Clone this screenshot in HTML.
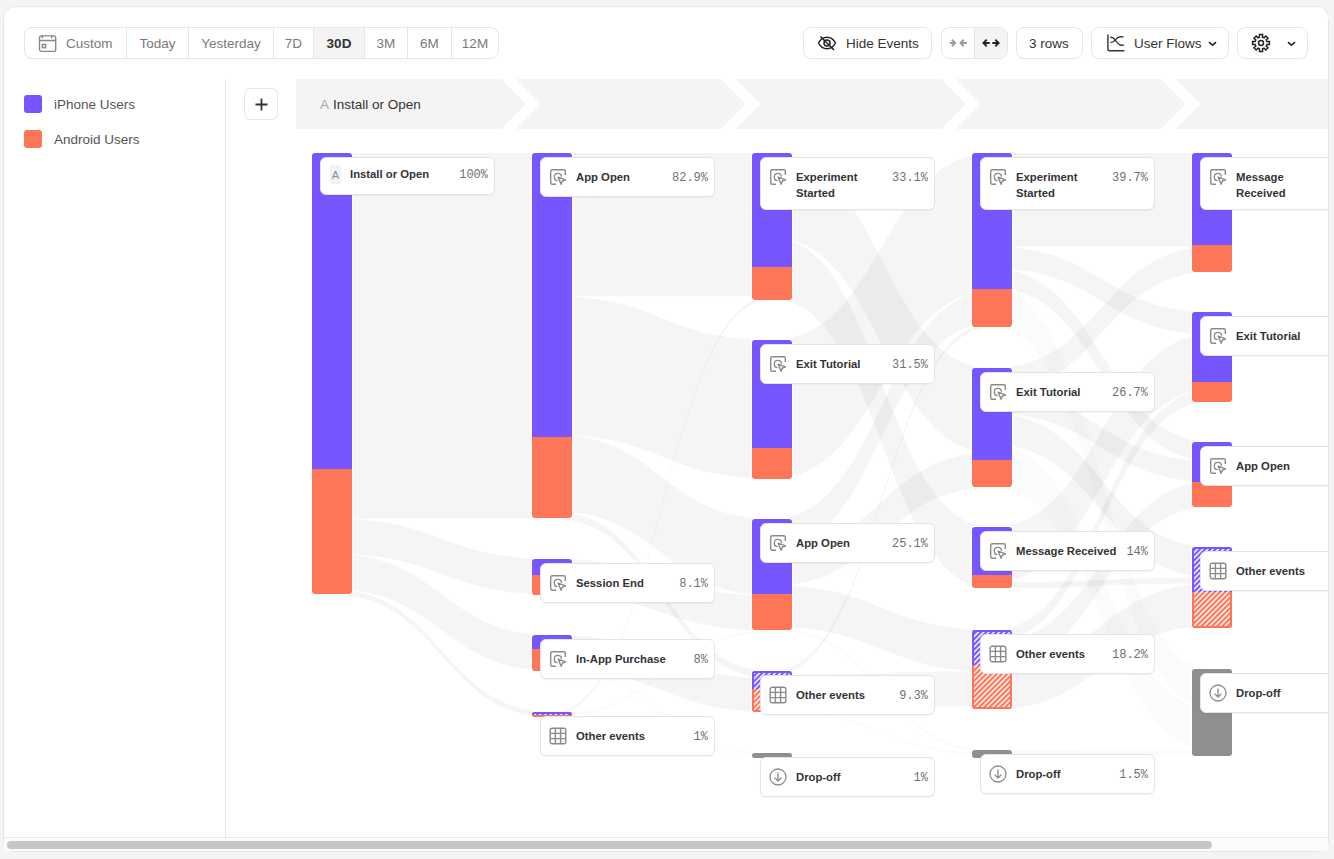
<!DOCTYPE html>
<html><head><meta charset="utf-8">
<style>
*{box-sizing:border-box;margin:0;padding:0}
html,body{width:1334px;height:859px;overflow:hidden;background:#f4f4f4;font-family:"Liberation Sans",sans-serif;color:#333;-webkit-font-smoothing:antialiased}
.frame{position:absolute;left:3px;top:6px;width:1326px;height:846px;background:#fff;border:1px solid #e6e6e6;border-radius:12px;overflow:hidden}
.abs{position:absolute}
.grp{position:absolute;top:27px;height:32px;border:1px solid #e5e5e5;border-radius:8px;display:flex;overflow:hidden;background:#fff}
.seg{height:30px;display:flex;align-items:center;justify-content:center;font-size:13.5px;color:#7a7a7a;border-left:1px solid #e5e5e5}
.seg:first-child{border-left:none}
.seg.on{background:#f4f4f4;color:#333;font-weight:bold}
.btn{position:absolute;top:27px;height:32px;border:1px solid #e5e5e5;border-radius:8px;background:#fff;font-size:13.5px;color:#333}
.btn span{position:absolute;top:8px;white-space:nowrap}
.btn svg{position:absolute}
.leg{position:absolute;left:24px;width:18px;height:18px;border-radius:3px}
.legt{position:absolute;left:54px;font-size:13.5px;color:#555;white-space:nowrap;margin-top:1px}
.card{position:absolute;width:175px;background:#fff;border:1px solid #e4e4e4;border-radius:6px;box-shadow:0 1px 1px rgba(0,0,0,0.04)}
.card .ic{position:absolute;left:8px;top:10px;width:18px;height:18px}
.card .ic svg{display:block}
.card .lb{position:absolute;left:35px;top:11px;font-size:11.3px;font-weight:bold;color:#333;line-height:16px;white-space:nowrap}
.card .pc{position:absolute;right:6px;top:12px;font-family:"Liberation Mono",monospace;font-size:12px;color:#707070;line-height:16px}
.aic{display:block;width:11px;height:19px;margin-left:1px;margin-top:-1px;background:#f2f2f2;border-radius:2px;color:#8a8a8a;font-size:11px;text-align:center;line-height:21px}
</style></head><body>
<div class="frame"></div>
<!-- date range group -->
<div class="grp" style="left:24px;width:475px">
  <div class="seg" style="width:101px;position:relative"><svg style="position:absolute;left:13px;top:6px" width="19" height="19" viewBox="0 0 19 19" fill="none" stroke="#888" stroke-width="1.4"><rect x="1.5" y="1.9" width="16.2" height="15.5" rx="2"/><path d="M1.5 6.5h16.2M4.4 0.9v3.4M13.7 0.9v3.4"/><rect x="4.4" y="10.5" width="3.2" height="3.2"/></svg><span style="position:absolute;left:41px;top:8px">Custom</span></div>
  <div class="seg" style="width:62px">Today</div>
  <div class="seg" style="width:85px">Yesterday</div>
  <div class="seg" style="width:40px">7D</div>
  <div class="seg on" style="width:51px">30D</div>
  <div class="seg" style="width:43px">3M</div>
  <div class="seg" style="width:44px">6M</div>
  <div class="seg" style="width:47px">12M</div>
</div>
<!-- right toolbar -->
<div class="btn" style="left:803px;width:129px">
  <svg style="left:13px;top:6px" width="20" height="18" viewBox="0 0 20 18" fill="none" stroke="#222" stroke-width="1.5"><path d="M1.5 9C3.5 5.2 6.5 3.2 10 3.2S16.5 5.2 18.5 9C16.5 12.8 13.5 14.8 10 14.8S3.5 12.8 1.5 9Z"/><circle cx="10" cy="9" r="3"/><path d="M3.5 2.5L17 16"/></svg>
  <span style="left:42px">Hide Events</span>
</div>
<div class="btn" style="left:941px;width:67px;overflow:hidden">
  <div class="abs" style="left:32px;top:0;width:1px;height:30px;background:#e5e5e5"></div>
  <div class="abs" style="left:33px;top:0;width:33px;height:30px;background:#f4f4f4"></div>
  <svg style="left:7px;top:10px" width="19" height="11" viewBox="0 0 19 11" fill="none" stroke="#999" stroke-width="1.8" stroke-linejoin="miter"><path d="M0.9 5h5.3M2.9 1.7L6.2 5 2.9 8.3M17.9 5h-6.4M14.8 1.7L11.5 5 14.8 8.3"/></svg>
  <svg style="left:40px;top:10px" width="19" height="11" viewBox="0 0 19 11" fill="none" stroke="#222" stroke-width="1.9" stroke-linejoin="miter"><path d="M1.4 5h6.3M4.7 1.7L1.4 5 4.7 8.3M10.3 5h6.3M13.3 1.7L16.6 5 13.3 8.3"/></svg>
</div>
<div class="btn" style="left:1016px;width:67px"><span style="left:12px">3 rows</span></div>
<div class="btn" style="left:1091px;width:138px">
  <svg style="left:14px;top:6px" width="19" height="19" viewBox="0 0 19 19" fill="none" stroke="#333" stroke-width="1.4"><path d="M1.9 0.6v14.6a1.5 1.5 0 0 0 1.5 1.5h15"/><path d="M4.3 3.2c2.5-.2 3.6.6 4.9 2.6 1.4 2.2 2.6 4.7 4.9 5.2 1 .2 2.4.3 3.8.1"/><path d="M4.3 8.4c2.4.1 3.8-.6 5.1-2.6 1.4-2 2.8-2.9 5-3 .8 0 1.8 0 3.1.1"/></svg>
  <span style="left:42px">User Flows</span>
  <svg style="left:116px;top:13px" width="9" height="6" viewBox="0 0 9 6" fill="none" stroke="#222" stroke-width="1.6"><path d="M1 1.2L4.5 4.3 8 1.2"/></svg>
</div>
<div class="btn" style="left:1237px;width:71px">
  <svg style="left:13px;top:5px" width="20" height="20" viewBox="0 0 20 20" fill="none" stroke="#222" stroke-width="1.5" stroke-linejoin="miter">
    <path d="M8.45,4.20 L8.45,1.60 L11.55,1.60 L11.55,4.20 L13.00,4.81 L14.84,2.96 L17.04,5.16 L15.19,7.00 L15.80,8.45 L18.40,8.45 L18.40,11.55 L15.80,11.55 L15.19,13.00 L17.04,14.84 L14.84,17.04 L13.00,15.19 L11.55,15.80 L11.55,18.40 L8.45,18.40 L8.45,15.80 L7.00,15.19 L5.16,17.04 L2.96,14.84 L4.81,13.00 L4.20,11.55 L1.60,11.55 L1.60,8.45 L4.20,8.45 L4.81,7.00 L2.96,5.16 L5.16,2.96 L7.00,4.81Z"/>
    <circle cx="10" cy="10" r="2.5"/>
  </svg>
  <svg style="left:49px;top:13px" width="9" height="6" viewBox="0 0 9 6" fill="none" stroke="#222" stroke-width="1.6"><path d="M1 1.2L4.5 4.3 8 1.2"/></svg>
</div>
<!-- sidebar -->
<div class="leg" style="top:95px;background:#7856ff"></div>
<div class="legt" style="top:96px">iPhone Users</div>
<div class="leg" style="top:130px;background:#ff7557"></div>
<div class="legt" style="top:131px">Android Users</div>
<div class="abs" style="left:225px;top:79px;width:1px;height:758px;background:#e6e6e6"></div>
<!-- plus -->
<div class="abs" style="left:244px;top:88px;width:34px;height:32px;border:1px solid #e5e5e5;border-radius:6px;background:#fff"></div>
<svg class="abs" style="left:255px;top:98px" width="13" height="13" viewBox="0 0 13 13" stroke="#333" stroke-width="1.8"><path d="M6.5 0.5v12M0.5 6.5h12"/></svg>
<!-- chart -->
<svg class="abs" style="left:0;top:0" width="1328" height="837" viewBox="0 0 1328 837">
  <defs>
    <pattern id="hatchP" patternUnits="userSpaceOnUse" width="3.7" height="3.7" patternTransform="rotate(45)"><rect width="3.7" height="3.7" fill="#fff"/><rect width="2.2" height="3.7" fill="#7856ff"/></pattern>
    <pattern id="hatchO" patternUnits="userSpaceOnUse" width="3.7" height="3.7" patternTransform="rotate(45)"><rect width="3.7" height="3.7" fill="#fff"/><rect width="2.2" height="3.7" fill="#ff7557"/></pattern>
  </defs>
  <!-- header band -->
  <path fill="#f4f4f4" d="M296,79H501L526,104L501,129H296Z"/>
  <path fill="#f4f4f4" d="M516,79H721L746,104L721,129H516L541,104Z"/>
  <path fill="#f4f4f4" d="M736,79H941L966,104L941,129H736L761,104Z"/>
  <path fill="#f4f4f4" d="M956,79H1161L1186,104L1161,129H956L981,104Z"/>
  <path fill="#f4f4f4" d="M1176,79H1381L1406,104L1381,129H1176L1201,104Z"/>
  <g fill="rgba(0,0,0,0.04)">
<path d="M332.0,153.0C442.0,153.0 442.0,153.0 552.0,153.0L552.0,518.5C442.0,518.5 442.0,518.5 332.0,518.5Z"/>
<path d="M332.0,518.5C442.0,518.5 442.0,559.0 552.0,559.0L552.0,594.3C442.0,594.3 442.0,553.8 332.0,553.8Z"/>
<path d="M332.0,553.8C442.0,553.8 442.0,635.0 552.0,635.0L552.0,670.8C442.0,670.8 442.0,589.6 332.0,589.6Z"/>
<path d="M332.0,589.6C442.0,589.6 442.0,712.0 552.0,712.0L552.0,717.2C442.0,717.2 442.0,594.8 332.0,594.8Z"/>
<path d="M552.0,153.0C662.0,153.0 662.0,153.0 772.0,153.0L772.0,296.3C662.0,296.3 662.0,296.3 552.0,296.3Z"/>
<path d="M552.0,296.3C662.0,296.3 662.0,340.0 772.0,340.0L772.0,478.4C662.0,478.4 662.0,434.7 552.0,434.7Z"/>
<path d="M552.0,434.7C662.0,434.7 662.0,519.0 772.0,519.0L772.0,595.5C662.0,595.5 662.0,511.2 552.0,511.2Z"/>
<path d="M552.0,511.2C662.0,511.2 662.0,671.0 772.0,671.0L772.0,678.3C662.0,678.3 662.0,518.5 552.0,518.5Z"/>
<path d="M552.0,559.0C662.0,559.0 662.0,595.5 772.0,595.5L772.0,630.8C662.0,630.8 662.0,594.3 552.0,594.3Z"/>
<path d="M552.0,635.0C662.0,635.0 662.0,678.3 772.0,678.3L772.0,712.1C662.0,712.1 662.0,668.8 552.0,668.8Z"/>
<path d="M552.0,668.8C662.0,668.8 662.0,753.0 772.0,753.0L772.0,755.0C662.0,755.0 662.0,670.8 552.0,670.8Z" fill="rgba(0,0,0,0.016)"/>
<path d="M552.0,712.0C662.0,712.0 662.0,296.3 772.0,296.3L772.0,299.3C662.0,299.3 662.0,715.0 552.0,715.0Z"/>
<path d="M552.0,715.0C662.0,715.0 662.0,630.8 772.0,630.8L772.0,631.8C662.0,631.8 662.0,716.0 552.0,716.0Z"/>
<path d="M552.0,716.0C662.0,716.0 662.0,755.0 772.0,755.0L772.0,756.2C662.0,756.2 662.0,717.2 552.0,717.2Z" fill="rgba(0,0,0,0.016)"/>
<path d="M772.0,153.0C882.0,153.0 882.0,368.0 992.0,368.0L992.0,452.6C882.0,452.6 882.0,237.6 772.0,237.6Z"/>
<path d="M772.0,237.6C882.0,237.6 882.0,527.0 992.0,527.0L992.0,588.6C882.0,588.6 882.0,299.2 772.0,299.2Z"/>
<path d="M772.0,340.0C882.0,340.0 882.0,153.0 992.0,153.0L992.0,291.4C882.0,291.4 882.0,478.4 772.0,478.4Z"/>
<path d="M772.0,519.0C882.0,519.0 882.0,291.4 992.0,291.4L992.0,323.0C882.0,323.0 882.0,550.6 772.0,550.6Z"/>
<path d="M772.0,550.6C882.0,550.6 882.0,452.6 992.0,452.6L992.0,487.6C882.0,487.6 882.0,585.6 772.0,585.6Z"/>
<path d="M772.0,585.6C882.0,585.6 882.0,630.0 992.0,630.0L992.0,671.3C882.0,671.3 882.0,626.9 772.0,626.9Z"/>
<path d="M772.0,626.9C882.0,626.9 882.0,750.0 992.0,750.0L992.0,753.0C882.0,753.0 882.0,629.9 772.0,629.9Z" fill="rgba(0,0,0,0.016)"/>
<path d="M772.0,671.0C882.0,671.0 882.0,323.0 992.0,323.0L992.0,327.0C882.0,327.0 882.0,675.0 772.0,675.0Z"/>
<path d="M772.0,675.0C882.0,675.0 882.0,671.3 992.0,671.3L992.0,706.3C882.0,706.3 882.0,710.0 772.0,710.0Z"/>
<path d="M772.0,710.0C882.0,710.0 882.0,753.0 992.0,753.0L992.0,755.1C882.0,755.1 882.0,712.1 772.0,712.1Z" fill="rgba(0,0,0,0.016)"/>
<path d="M992.0,153.0C1102.0,153.0 1102.0,153.0 1212.0,153.0L1212.0,246.5C1102.0,246.5 1102.0,246.5 992.0,246.5Z"/>
<path d="M992.0,246.5C1102.0,246.5 1102.0,312.0 1212.0,312.0L1212.0,334.0C1102.0,334.0 1102.0,268.5 992.0,268.5Z"/>
<path d="M992.0,268.5C1102.0,268.5 1102.0,442.0 1212.0,442.0L1212.0,461.0C1102.0,461.0 1102.0,287.5 992.0,287.5Z"/>
<path d="M992.0,287.5C1102.0,287.5 1102.0,669.0 1212.0,669.0L1212.0,708.5C1102.0,708.5 1102.0,327.0 992.0,327.0Z" fill="rgba(0,0,0,0.016)"/>
<path d="M992.0,368.0C1102.0,368.0 1102.0,246.5 1212.0,246.5L1212.0,271.8C1102.0,271.8 1102.0,393.3 992.0,393.3Z"/>
<path d="M992.0,393.3C1102.0,393.3 1102.0,461.0 1212.0,461.0L1212.0,481.7C1102.0,481.7 1102.0,414.0 992.0,414.0Z"/>
<path d="M992.0,414.0C1102.0,414.0 1102.0,547.0 1212.0,547.0L1212.0,577.6C1102.0,577.6 1102.0,444.6 992.0,444.6Z"/>
<path d="M992.0,444.6C1102.0,444.6 1102.0,708.5 1212.0,708.5L1212.0,750.5C1102.0,750.5 1102.0,486.6 992.0,486.6Z" fill="rgba(0,0,0,0.016)"/>
<path d="M992.0,527.0C1102.0,527.0 1102.0,334.0 1212.0,334.0L1212.0,389.4C1102.0,389.4 1102.0,582.4 992.0,582.4Z"/>
<path d="M992.0,582.4C1102.0,582.4 1102.0,577.6 1212.0,577.6L1212.0,583.6C1102.0,583.6 1102.0,588.4 992.0,588.4Z"/>
<path d="M992.0,630.0C1102.0,630.0 1102.0,389.4 1212.0,389.4L1212.0,401.4C1102.0,401.4 1102.0,642.0 992.0,642.0Z"/>
<path d="M992.0,642.0C1102.0,642.0 1102.0,481.7 1212.0,481.7L1212.0,506.7C1102.0,506.7 1102.0,667.0 992.0,667.0Z"/>
<path d="M992.0,667.0C1102.0,667.0 1102.0,583.6 1212.0,583.6L1212.0,626.0C1102.0,626.0 1102.0,709.4 992.0,709.4Z"/>
<path d="M992.0,750.0C1102.0,750.0 1102.0,750.5 1212.0,750.5L1212.0,756.1C1102.0,756.1 1102.0,755.6 992.0,755.6Z" fill="rgba(0,0,0,0.016)"/>
  </g>
  <g stroke="#fff" stroke-width="0">
<clipPath id="clip-IO1"><rect x="312" y="153.0" width="40" height="441.0" rx="3.0" ry="3.0"/></clipPath>
<rect x="311" y="152.0" width="42" height="443.0" rx="4.0" fill="#fff"/>
<g clip-path="url(#clip-IO1)">
<rect x="312" y="153.0" width="40" height="316.0" fill="#7856ff"/>
<rect x="312" y="469.0" width="40" height="125.0" fill="#ff7557"/>
</g>
<clipPath id="clip-AO2"><rect x="532" y="153.0" width="40" height="365.0" rx="3.0" ry="3.0"/></clipPath>
<rect x="531" y="152.0" width="42" height="367.0" rx="4.0" fill="#fff"/>
<g clip-path="url(#clip-AO2)">
<rect x="532" y="153.0" width="40" height="284.0" fill="#7856ff"/>
<rect x="532" y="437.0" width="40" height="81.0" fill="#ff7557"/>
</g>
<clipPath id="clip-SE2"><rect x="532" y="559.0" width="40" height="36.0" rx="3.0" ry="3.0"/></clipPath>
<rect x="531" y="558.0" width="42" height="38.0" rx="4.0" fill="#fff"/>
<g clip-path="url(#clip-SE2)">
<rect x="532" y="559.0" width="40" height="16.0" fill="#7856ff"/>
<rect x="532" y="575.0" width="40" height="20.0" fill="#ff7557"/>
</g>
<clipPath id="clip-IP2"><rect x="532" y="635.0" width="40" height="36.0" rx="3.0" ry="3.0"/></clipPath>
<rect x="531" y="634.0" width="42" height="38.0" rx="4.0" fill="#fff"/>
<g clip-path="url(#clip-IP2)">
<rect x="532" y="635.0" width="40" height="14.0" fill="#7856ff"/>
<rect x="532" y="649.0" width="40" height="22.0" fill="#ff7557"/>
</g>
<clipPath id="clip-OE2"><rect x="532" y="712.0" width="40" height="5.0" rx="2.5" ry="2.5"/></clipPath>
<rect x="531" y="711.0" width="42" height="7.0" rx="3.5" fill="#fff"/>
<g clip-path="url(#clip-OE2)">
<rect x="532" y="712.0" width="40" height="3.0" fill="url(#hatchP)"/>
<rect x="532" y="715.0" width="40" height="2.0" fill="url(#hatchO)"/>
<path d="M533,715.0V713.0H571V715.0" fill="none" stroke="#7856ff" stroke-width="2"/>
<path d="M533,715.0V716.0H571V715.0" fill="none" stroke="#ff7557" stroke-width="2"/>
</g>
<clipPath id="clip-ES3"><rect x="752" y="153.0" width="40" height="147.0" rx="3.0" ry="3.0"/></clipPath>
<rect x="751" y="152.0" width="42" height="149.0" rx="4.0" fill="#fff"/>
<g clip-path="url(#clip-ES3)">
<rect x="752" y="153.0" width="40" height="114.0" fill="#7856ff"/>
<rect x="752" y="267.0" width="40" height="33.0" fill="#ff7557"/>
</g>
<clipPath id="clip-ET3"><rect x="752" y="340.0" width="40" height="139.0" rx="3.0" ry="3.0"/></clipPath>
<rect x="751" y="339.0" width="42" height="141.0" rx="4.0" fill="#fff"/>
<g clip-path="url(#clip-ET3)">
<rect x="752" y="340.0" width="40" height="108.0" fill="#7856ff"/>
<rect x="752" y="448.0" width="40" height="31.0" fill="#ff7557"/>
</g>
<clipPath id="clip-AO3"><rect x="752" y="519.0" width="40" height="111.0" rx="3.0" ry="3.0"/></clipPath>
<rect x="751" y="518.0" width="42" height="113.0" rx="4.0" fill="#fff"/>
<g clip-path="url(#clip-AO3)">
<rect x="752" y="519.0" width="40" height="75.0" fill="#7856ff"/>
<rect x="752" y="594.0" width="40" height="36.0" fill="#ff7557"/>
</g>
<clipPath id="clip-OE3"><rect x="752" y="671.0" width="40" height="41.0" rx="3.0" ry="3.0"/></clipPath>
<rect x="751" y="670.0" width="42" height="43.0" rx="4.0" fill="#fff"/>
<g clip-path="url(#clip-OE3)">
<rect x="752" y="671.0" width="40" height="18.0" fill="url(#hatchP)"/>
<rect x="752" y="689.0" width="40" height="23.0" fill="url(#hatchO)"/>
<path d="M753,689.0V672.0H791V689.0" fill="none" stroke="#7856ff" stroke-width="2"/>
<path d="M753,689.0V711.0H791V689.0" fill="none" stroke="#ff7557" stroke-width="2"/>
</g>
<clipPath id="clip-DO3"><rect x="752" y="753.0" width="40" height="5.0" rx="2.5" ry="2.5"/></clipPath>
<rect x="751" y="752.0" width="42" height="7.0" rx="3.5" fill="#fff"/>
<g clip-path="url(#clip-DO3)">
<rect x="752" y="753.0" width="40" height="5.0" fill="#8f8f8f"/>
</g>
<clipPath id="clip-ES4"><rect x="972" y="153.0" width="40" height="174.0" rx="3.0" ry="3.0"/></clipPath>
<rect x="971" y="152.0" width="42" height="176.0" rx="4.0" fill="#fff"/>
<g clip-path="url(#clip-ES4)">
<rect x="972" y="153.0" width="40" height="136.0" fill="#7856ff"/>
<rect x="972" y="289.0" width="40" height="38.0" fill="#ff7557"/>
</g>
<clipPath id="clip-ET4"><rect x="972" y="368.0" width="40" height="119.0" rx="3.0" ry="3.0"/></clipPath>
<rect x="971" y="367.0" width="42" height="121.0" rx="4.0" fill="#fff"/>
<g clip-path="url(#clip-ET4)">
<rect x="972" y="368.0" width="40" height="92.0" fill="#7856ff"/>
<rect x="972" y="460.0" width="40" height="27.0" fill="#ff7557"/>
</g>
<clipPath id="clip-MR4"><rect x="972" y="527.0" width="40" height="61.0" rx="3.0" ry="3.0"/></clipPath>
<rect x="971" y="526.0" width="42" height="63.0" rx="4.0" fill="#fff"/>
<g clip-path="url(#clip-MR4)">
<rect x="972" y="527.0" width="40" height="48.0" fill="#7856ff"/>
<rect x="972" y="575.0" width="40" height="13.0" fill="#ff7557"/>
</g>
<clipPath id="clip-OE4"><rect x="972" y="630.0" width="40" height="79.0" rx="3.0" ry="3.0"/></clipPath>
<rect x="971" y="629.0" width="42" height="81.0" rx="4.0" fill="#fff"/>
<g clip-path="url(#clip-OE4)">
<rect x="972" y="630.0" width="40" height="35.0" fill="url(#hatchP)"/>
<rect x="972" y="665.0" width="40" height="44.0" fill="url(#hatchO)"/>
<path d="M973,665.0V631.0H1011V665.0" fill="none" stroke="#7856ff" stroke-width="2"/>
<path d="M973,665.0V708.0H1011V665.0" fill="none" stroke="#ff7557" stroke-width="2"/>
</g>
<clipPath id="clip-DO4"><rect x="972" y="750.0" width="40" height="8.0" rx="3.0" ry="3.0"/></clipPath>
<rect x="971" y="749.0" width="42" height="10.0" rx="4.0" fill="#fff"/>
<g clip-path="url(#clip-DO4)">
<rect x="972" y="750.0" width="40" height="8.0" fill="#8f8f8f"/>
</g>
<clipPath id="clip-MR5"><rect x="1192" y="153.0" width="40" height="119.0" rx="3.0" ry="3.0"/></clipPath>
<rect x="1191" y="152.0" width="42" height="121.0" rx="4.0" fill="#fff"/>
<g clip-path="url(#clip-MR5)">
<rect x="1192" y="153.0" width="40" height="92.0" fill="#7856ff"/>
<rect x="1192" y="245.0" width="40" height="27.0" fill="#ff7557"/>
</g>
<clipPath id="clip-ET5"><rect x="1192" y="312.0" width="40" height="90.0" rx="3.0" ry="3.0"/></clipPath>
<rect x="1191" y="311.0" width="42" height="92.0" rx="4.0" fill="#fff"/>
<g clip-path="url(#clip-ET5)">
<rect x="1192" y="312.0" width="40" height="70.0" fill="#7856ff"/>
<rect x="1192" y="382.0" width="40" height="20.0" fill="#ff7557"/>
</g>
<clipPath id="clip-AO5"><rect x="1192" y="442.0" width="40" height="65.0" rx="3.0" ry="3.0"/></clipPath>
<rect x="1191" y="441.0" width="42" height="67.0" rx="4.0" fill="#fff"/>
<g clip-path="url(#clip-AO5)">
<rect x="1192" y="442.0" width="40" height="40.0" fill="#7856ff"/>
<rect x="1192" y="482.0" width="40" height="25.0" fill="#ff7557"/>
</g>
<clipPath id="clip-OE5"><rect x="1192" y="547.0" width="40" height="81.0" rx="3.0" ry="3.0"/></clipPath>
<rect x="1191" y="546.0" width="42" height="83.0" rx="4.0" fill="#fff"/>
<g clip-path="url(#clip-OE5)">
<rect x="1192" y="547.0" width="40" height="45.0" fill="url(#hatchP)"/>
<rect x="1192" y="592.0" width="40" height="36.0" fill="url(#hatchO)"/>
<path d="M1193,592.0V548.0H1231V592.0" fill="none" stroke="#7856ff" stroke-width="2"/>
<path d="M1193,592.0V627.0H1231V592.0" fill="none" stroke="#ff7557" stroke-width="2"/>
</g>
<clipPath id="clip-DO5"><rect x="1192" y="669.0" width="40" height="87.0" rx="3.0" ry="3.0"/></clipPath>
<rect x="1191" y="668.0" width="42" height="89.0" rx="4.0" fill="#fff"/>
<g clip-path="url(#clip-DO5)">
<rect x="1192" y="669.0" width="40" height="87.0" fill="#8f8f8f"/>
</g>
  </g>
</svg>
<div class="abs" style="left:320px;top:97px;font-size:13.5px;color:#aaa">A</div>
<div class="abs" style="left:333px;top:97px;font-size:13.5px;color:#333">Install or Open</div>
<div class="abs" style="left:0;top:0;width:1328px;height:837px;overflow:hidden">
<div class="card" style="left:320px;top:157.0px;height:38px"><div class="ic" style="left:8px;top:8px"><span class="aic">A</span></div><div class="lb" style="left:29px;top:8px">Install or Open</div><div class="pc" style="top:9px">100%</div></div>
<div class="card" style="left:540px;top:157.0px;height:40px"><div class="ic"><svg width="18" height="18" viewBox="0 0 18 18" fill="none" stroke="#8a8a8a" stroke-width="1.4"><path d="M7 16.3H3.2a1.5 1.5 0 0 1-1.5-1.5V3.2a1.5 1.5 0 0 1 1.5-1.5h11.6a1.5 1.5 0 0 1 1.5 1.5V7"/><path d="M8.6 12.6a3.6 3.6 0 1 1 3.9-3.9"/><path d="M9.2 9.2l7.4 2.6-3.2 1.2-1.3 3.3z" stroke-linejoin="round"/></svg></div><div class="lb">App Open</div><div class="pc">82.9%</div></div>
<div class="card" style="left:540px;top:563.0px;height:40px"><div class="ic"><svg width="18" height="18" viewBox="0 0 18 18" fill="none" stroke="#8a8a8a" stroke-width="1.4"><path d="M7 16.3H3.2a1.5 1.5 0 0 1-1.5-1.5V3.2a1.5 1.5 0 0 1 1.5-1.5h11.6a1.5 1.5 0 0 1 1.5 1.5V7"/><path d="M8.6 12.6a3.6 3.6 0 1 1 3.9-3.9"/><path d="M9.2 9.2l7.4 2.6-3.2 1.2-1.3 3.3z" stroke-linejoin="round"/></svg></div><div class="lb">Session End</div><div class="pc">8.1%</div></div>
<div class="card" style="left:540px;top:639.0px;height:40px"><div class="ic"><svg width="18" height="18" viewBox="0 0 18 18" fill="none" stroke="#8a8a8a" stroke-width="1.4"><path d="M7 16.3H3.2a1.5 1.5 0 0 1-1.5-1.5V3.2a1.5 1.5 0 0 1 1.5-1.5h11.6a1.5 1.5 0 0 1 1.5 1.5V7"/><path d="M8.6 12.6a3.6 3.6 0 1 1 3.9-3.9"/><path d="M9.2 9.2l7.4 2.6-3.2 1.2-1.3 3.3z" stroke-linejoin="round"/></svg></div><div class="lb">In-App Purchase</div><div class="pc">8%</div></div>
<div class="card" style="left:540px;top:716.0px;height:40px"><div class="ic"><svg width="18" height="18" viewBox="0 0 18 18" fill="none" stroke="#8a8a8a" stroke-width="1.4"><rect x="1.2" y="1.2" width="15.6" height="15.6" rx="2"/><path d="M6.4 1.2v15.6M11.6 1.2v15.6M1.2 6.4h15.6M1.2 11.6h15.6"/></svg></div><div class="lb">Other events</div><div class="pc">1%</div></div>
<div class="card" style="left:760px;top:157.0px;height:53px"><div class="ic"><svg width="18" height="18" viewBox="0 0 18 18" fill="none" stroke="#8a8a8a" stroke-width="1.4"><path d="M7 16.3H3.2a1.5 1.5 0 0 1-1.5-1.5V3.2a1.5 1.5 0 0 1 1.5-1.5h11.6a1.5 1.5 0 0 1 1.5 1.5V7"/><path d="M8.6 12.6a3.6 3.6 0 1 1 3.9-3.9"/><path d="M9.2 9.2l7.4 2.6-3.2 1.2-1.3 3.3z" stroke-linejoin="round"/></svg></div><div class="lb">Experiment<br>Started</div><div class="pc">33.1%</div></div>
<div class="card" style="left:760px;top:344.0px;height:40px"><div class="ic"><svg width="18" height="18" viewBox="0 0 18 18" fill="none" stroke="#8a8a8a" stroke-width="1.4"><path d="M7 16.3H3.2a1.5 1.5 0 0 1-1.5-1.5V3.2a1.5 1.5 0 0 1 1.5-1.5h11.6a1.5 1.5 0 0 1 1.5 1.5V7"/><path d="M8.6 12.6a3.6 3.6 0 1 1 3.9-3.9"/><path d="M9.2 9.2l7.4 2.6-3.2 1.2-1.3 3.3z" stroke-linejoin="round"/></svg></div><div class="lb">Exit Tutorial</div><div class="pc">31.5%</div></div>
<div class="card" style="left:760px;top:523.0px;height:40px"><div class="ic"><svg width="18" height="18" viewBox="0 0 18 18" fill="none" stroke="#8a8a8a" stroke-width="1.4"><path d="M7 16.3H3.2a1.5 1.5 0 0 1-1.5-1.5V3.2a1.5 1.5 0 0 1 1.5-1.5h11.6a1.5 1.5 0 0 1 1.5 1.5V7"/><path d="M8.6 12.6a3.6 3.6 0 1 1 3.9-3.9"/><path d="M9.2 9.2l7.4 2.6-3.2 1.2-1.3 3.3z" stroke-linejoin="round"/></svg></div><div class="lb">App Open</div><div class="pc">25.1%</div></div>
<div class="card" style="left:760px;top:675.0px;height:40px"><div class="ic"><svg width="18" height="18" viewBox="0 0 18 18" fill="none" stroke="#8a8a8a" stroke-width="1.4"><rect x="1.2" y="1.2" width="15.6" height="15.6" rx="2"/><path d="M6.4 1.2v15.6M11.6 1.2v15.6M1.2 6.4h15.6M1.2 11.6h15.6"/></svg></div><div class="lb">Other events</div><div class="pc">9.3%</div></div>
<div class="card" style="left:760px;top:757.0px;height:40px"><div class="ic"><svg width="18" height="18" viewBox="0 0 18 18" fill="none" stroke="#8a8a8a" stroke-width="1.3"><circle cx="9" cy="9" r="8"/><path d="M9 4.6v8.4M5.6 9.6L9 13l3.4-3.4"/></svg></div><div class="lb">Drop-off</div><div class="pc">1%</div></div>
<div class="card" style="left:980px;top:157.0px;height:53px"><div class="ic"><svg width="18" height="18" viewBox="0 0 18 18" fill="none" stroke="#8a8a8a" stroke-width="1.4"><path d="M7 16.3H3.2a1.5 1.5 0 0 1-1.5-1.5V3.2a1.5 1.5 0 0 1 1.5-1.5h11.6a1.5 1.5 0 0 1 1.5 1.5V7"/><path d="M8.6 12.6a3.6 3.6 0 1 1 3.9-3.9"/><path d="M9.2 9.2l7.4 2.6-3.2 1.2-1.3 3.3z" stroke-linejoin="round"/></svg></div><div class="lb">Experiment<br>Started</div><div class="pc">39.7%</div></div>
<div class="card" style="left:980px;top:372.0px;height:40px"><div class="ic"><svg width="18" height="18" viewBox="0 0 18 18" fill="none" stroke="#8a8a8a" stroke-width="1.4"><path d="M7 16.3H3.2a1.5 1.5 0 0 1-1.5-1.5V3.2a1.5 1.5 0 0 1 1.5-1.5h11.6a1.5 1.5 0 0 1 1.5 1.5V7"/><path d="M8.6 12.6a3.6 3.6 0 1 1 3.9-3.9"/><path d="M9.2 9.2l7.4 2.6-3.2 1.2-1.3 3.3z" stroke-linejoin="round"/></svg></div><div class="lb">Exit Tutorial</div><div class="pc">26.7%</div></div>
<div class="card" style="left:980px;top:531.0px;height:40px"><div class="ic"><svg width="18" height="18" viewBox="0 0 18 18" fill="none" stroke="#8a8a8a" stroke-width="1.4"><path d="M7 16.3H3.2a1.5 1.5 0 0 1-1.5-1.5V3.2a1.5 1.5 0 0 1 1.5-1.5h11.6a1.5 1.5 0 0 1 1.5 1.5V7"/><path d="M8.6 12.6a3.6 3.6 0 1 1 3.9-3.9"/><path d="M9.2 9.2l7.4 2.6-3.2 1.2-1.3 3.3z" stroke-linejoin="round"/></svg></div><div class="lb">Message Received</div><div class="pc">14%</div></div>
<div class="card" style="left:980px;top:634.0px;height:40px"><div class="ic"><svg width="18" height="18" viewBox="0 0 18 18" fill="none" stroke="#8a8a8a" stroke-width="1.4"><rect x="1.2" y="1.2" width="15.6" height="15.6" rx="2"/><path d="M6.4 1.2v15.6M11.6 1.2v15.6M1.2 6.4h15.6M1.2 11.6h15.6"/></svg></div><div class="lb">Other events</div><div class="pc">18.2%</div></div>
<div class="card" style="left:980px;top:754.0px;height:40px"><div class="ic"><svg width="18" height="18" viewBox="0 0 18 18" fill="none" stroke="#8a8a8a" stroke-width="1.3"><circle cx="9" cy="9" r="8"/><path d="M9 4.6v8.4M5.6 9.6L9 13l3.4-3.4"/></svg></div><div class="lb">Drop-off</div><div class="pc">1.5%</div></div>
<div class="card" style="left:1200px;top:157.0px;height:53px"><div class="ic"><svg width="18" height="18" viewBox="0 0 18 18" fill="none" stroke="#8a8a8a" stroke-width="1.4"><path d="M7 16.3H3.2a1.5 1.5 0 0 1-1.5-1.5V3.2a1.5 1.5 0 0 1 1.5-1.5h11.6a1.5 1.5 0 0 1 1.5 1.5V7"/><path d="M8.6 12.6a3.6 3.6 0 1 1 3.9-3.9"/><path d="M9.2 9.2l7.4 2.6-3.2 1.2-1.3 3.3z" stroke-linejoin="round"/></svg></div><div class="lb">Message<br>Received</div><div class="pc"></div></div>
<div class="card" style="left:1200px;top:316.0px;height:40px"><div class="ic"><svg width="18" height="18" viewBox="0 0 18 18" fill="none" stroke="#8a8a8a" stroke-width="1.4"><path d="M7 16.3H3.2a1.5 1.5 0 0 1-1.5-1.5V3.2a1.5 1.5 0 0 1 1.5-1.5h11.6a1.5 1.5 0 0 1 1.5 1.5V7"/><path d="M8.6 12.6a3.6 3.6 0 1 1 3.9-3.9"/><path d="M9.2 9.2l7.4 2.6-3.2 1.2-1.3 3.3z" stroke-linejoin="round"/></svg></div><div class="lb">Exit Tutorial</div><div class="pc"></div></div>
<div class="card" style="left:1200px;top:446.0px;height:40px"><div class="ic"><svg width="18" height="18" viewBox="0 0 18 18" fill="none" stroke="#8a8a8a" stroke-width="1.4"><path d="M7 16.3H3.2a1.5 1.5 0 0 1-1.5-1.5V3.2a1.5 1.5 0 0 1 1.5-1.5h11.6a1.5 1.5 0 0 1 1.5 1.5V7"/><path d="M8.6 12.6a3.6 3.6 0 1 1 3.9-3.9"/><path d="M9.2 9.2l7.4 2.6-3.2 1.2-1.3 3.3z" stroke-linejoin="round"/></svg></div><div class="lb">App Open</div><div class="pc"></div></div>
<div class="card" style="left:1200px;top:551.0px;height:40px"><div class="ic"><svg width="18" height="18" viewBox="0 0 18 18" fill="none" stroke="#8a8a8a" stroke-width="1.4"><rect x="1.2" y="1.2" width="15.6" height="15.6" rx="2"/><path d="M6.4 1.2v15.6M11.6 1.2v15.6M1.2 6.4h15.6M1.2 11.6h15.6"/></svg></div><div class="lb">Other events</div><div class="pc"></div></div>
<div class="card" style="left:1200px;top:673.0px;height:40px"><div class="ic"><svg width="18" height="18" viewBox="0 0 18 18" fill="none" stroke="#8a8a8a" stroke-width="1.3"><circle cx="9" cy="9" r="8"/><path d="M9 4.6v8.4M5.6 9.6L9 13l3.4-3.4"/></svg></div><div class="lb">Drop-off</div><div class="pc"></div></div>
</div>
<!-- scrollbar -->
<div class="abs" style="left:4px;top:837px;width:1324px;height:1px;background:#e8e8e8"></div>
<div class="abs" style="left:4px;top:838px;width:1324px;height:13px;background:#fbfbfb"></div>
<div class="abs" style="left:7px;top:841px;width:1205px;height:8px;border-radius:4px;background:#c6c6c6"></div>
<div class="abs" style="left:1328px;top:0;width:6px;height:859px;background:#f4f4f4"></div>
<div class="abs" style="left:1328px;top:20px;width:1px;height:823px;background:#e6e6e6"></div>
</body></html>
